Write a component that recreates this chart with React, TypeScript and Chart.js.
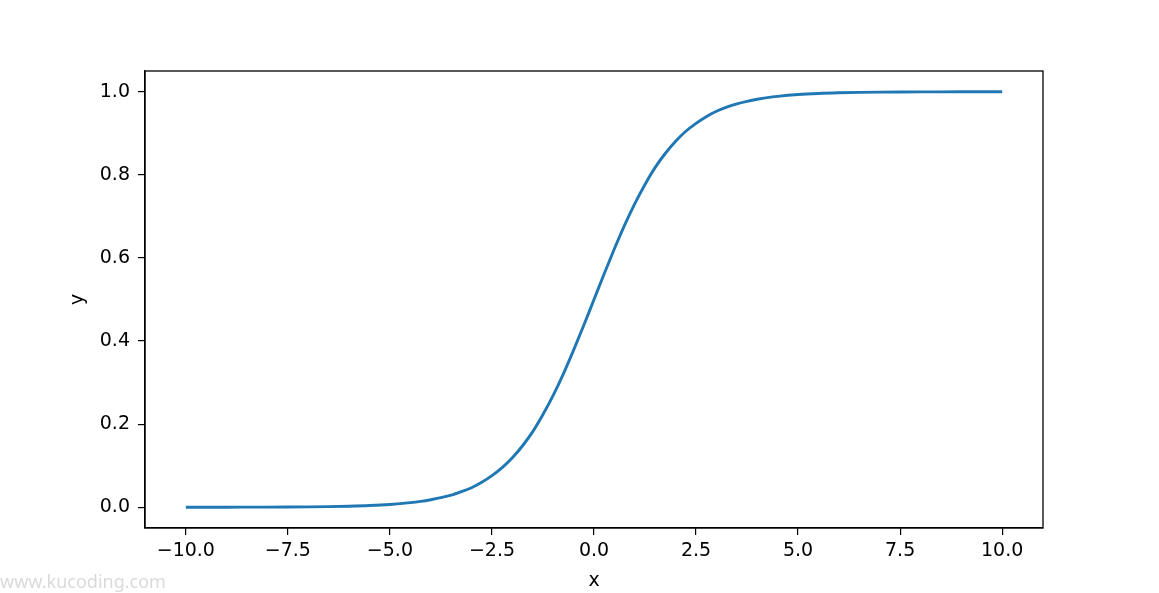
import React, { useEffect, useRef } from "react";
import { Chart, registerables } from "chart.js";

Chart.register(...registerables);

const xValues = [
  -10, -9.5, -9, -8.5, -8, -7.5, -7, -6.5, -6, -5.5, -5, -4.5, -4.25, -4, -3.75, -3.5, -3.25, -3, -2.75, -2.5,
  -2.25, -2, -1.75, -1.5, -1.25, -1, -0.75, -0.5, -0.25, 0, 0.25, 0.5, 0.75, 1, 1.25, 1.5, 1.75, 2, 2.25, 2.5,
  2.75, 3, 3.25, 3.5, 3.75, 4, 4.25, 4.5, 5, 5.5, 6, 6.5, 7, 7.5, 8, 8.5, 9, 9.5, 10,
];
const yValues = [
  0.00005, 0.00007, 0.00012, 0.0002, 0.00034, 0.00055, 0.0009, 0.0015, 0.0025, 0.0041, 0.0067, 0.011, 0.014,
  0.018, 0.023, 0.029, 0.0374, 0.047, 0.06, 0.076, 0.0954, 0.119, 0.148, 0.182, 0.223, 0.269, 0.321, 0.378,
  0.438, 0.5, 0.562, 0.622, 0.679, 0.731, 0.777, 0.818, 0.852, 0.881, 0.905, 0.924, 0.94, 0.953, 0.963, 0.971,
  0.977, 0.982, 0.986, 0.989, 0.9933, 0.9959, 0.9975, 0.9985, 0.9991, 0.99945, 0.99966, 0.9998, 0.99988,
  0.99993, 0.99995,
];
const xTicks = [-10, -7.5, -5, -2.5, 0, 2.5, 5, 7.5, 10];
const yTicks = [0, 0.2, 0.4, 0.6, 0.8, 1.0];

const FONT = "'DejaVu Sans', sans-serif";

const fmt = (v: number) => {
  const s = Math.abs(v).toFixed(1);
  return v < 0 ? "\u2212" + s : s;
};

const frame = {
  id: "frame",
  afterDraw(chart: any) {
    const { ctx, chartArea } = chart;
    ctx.save();
    ctx.strokeStyle = "#000";
    ctx.lineWidth = 1.3;
    ctx.strokeRect(chartArea.left, chartArea.top, chartArea.right - chartArea.left, chartArea.bottom - chartArea.top);
    ctx.restore();
  },
};

export default function App() {
  const ref = useRef<HTMLCanvasElement>(null);
  useEffect(() => {
    if (!ref.current) return;
    const chart = new Chart(ref.current, {
      type: "line",
      data: {
        datasets: [
          {
            data: xValues.map((x, i) => ({ x, y: yValues[i] })),
            borderColor: "#1f77b4",
            borderWidth: 2.9,
            pointRadius: 0,
            cubicInterpolationMode: "monotone",
            fill: false,
          },
        ],
      },
      options: {
        animation: false,
        responsive: false,
        events: [],
        layout: { padding: { left: 0, top: 71, right: 116, bottom: 0 } },
        plugins: { legend: { display: false }, tooltip: { enabled: false } },
        scales: {
          x: {
            type: "linear",
            min: -11,
            max: 11,
            afterBuildTicks: (axis: any) => {
              axis.ticks = xTicks.map((v) => ({ value: v }));
            },
            afterFit: (axis: any) => {
              axis.height = 65;
            },
            grid: { drawOnChartArea: false, drawTicks: true, tickLength: 7, color: "#000", lineWidth: 1.2 },
            border: { display: true, color: "#000", width: 1.3 },
            ticks: {
              color: "#000",
              font: { family: FONT, size: 19 },
              padding: 5,
              maxRotation: 0,
              autoSkip: false,
              callback: (v: any) => fmt(Number(v)),
            },
            title: {
              display: true,
              text: "x",
              color: "#000",
              font: { family: FONT, size: 19 },
              padding: { top: 0, bottom: 1 },
            },
          },
          y: {
            type: "linear",
            min: -0.05,
            max: 1.05,
            afterBuildTicks: (axis: any) => {
              axis.ticks = yTicks.map((v) => ({ value: v }));
            },
            afterFit: (axis: any) => {
              axis.width = 145;
            },
            grid: { drawOnChartArea: false, drawTicks: true, tickLength: 7, color: "#000", lineWidth: 1.2 },
            border: { display: true, color: "#000", width: 1.3 },
            ticks: {
              color: "#000",
              font: { family: FONT, size: 19 },
              padding: 8,
              autoSkip: false,
              callback: (v: any) => fmt(Number(v)),
            },
            title: {
              display: true,
              text: "y",
              color: "#000",
              font: { family: FONT, size: 19 },
              padding: { top: 67, bottom: 0 },
            },
          },
        },
      },
      plugins: [frame],
    } as any);
    return () => chart.destroy();
  }, []);
  return (
    <div style={{ position: "fixed", left: 0, top: 0, width: 1159, height: 593, background: "#fff" }}>
      <canvas ref={ref} width={1159} height={593} style={{ display: "block", width: 1159, height: 593 }} />
      <div
        style={{
          position: "absolute",
          left: 0,
          top: 569,
          fontFamily: "'Noto Sans', sans-serif",
          fontSize: 18,
          color: "#dadada",
          lineHeight: "24px",
          whiteSpace: "nowrap",
        }}
      >
        www.kucoding.com
      </div>
    </div>
  );
}
